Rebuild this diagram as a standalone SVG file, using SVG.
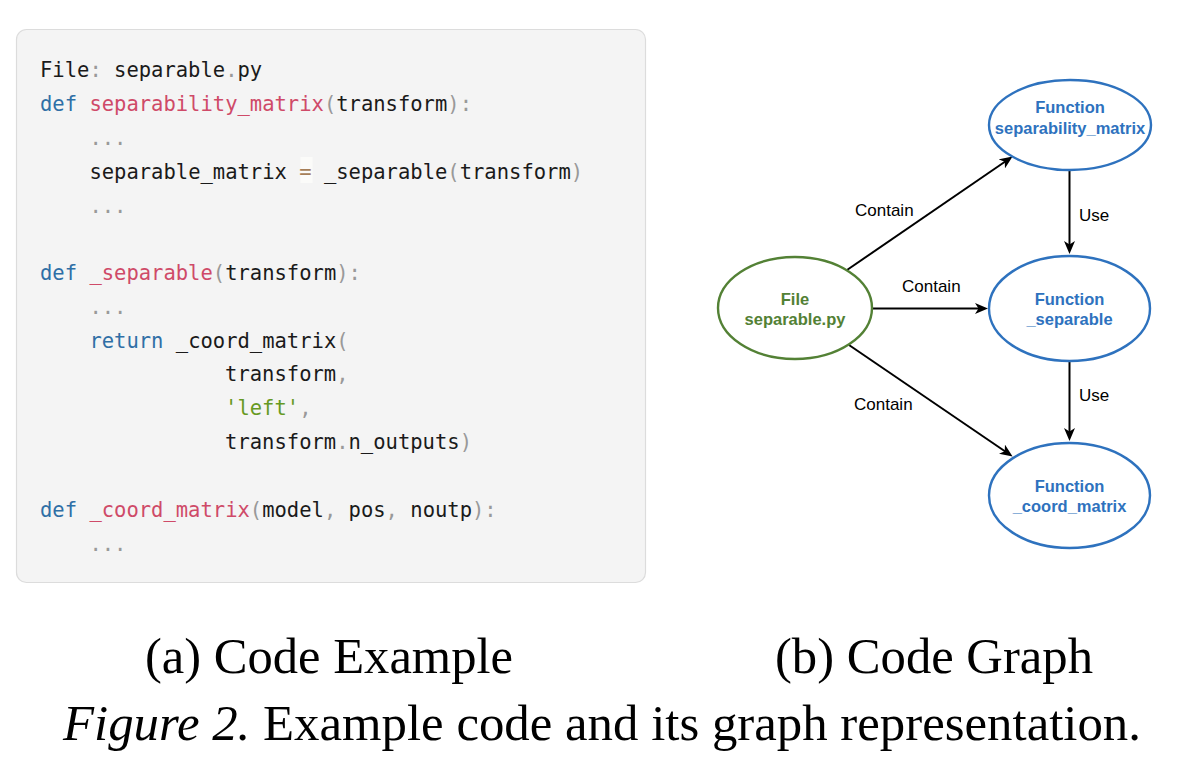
<svg xmlns="http://www.w3.org/2000/svg" width="1202" height="782" viewBox="0 0 1202 782">
<style>
.code{font-family:"DejaVu Sans Mono","Liberation Mono",monospace;font-size:20.5px;fill:#1a1a1a;white-space:pre}
.kw{fill:#2f6fa6}
.fn{fill:#cf4a68}
.pu{fill:#999999}
.st{fill:#669922}
.op{fill:#a67f59}
.node-f{fill:#ffffff;stroke:#2e72be;stroke-width:2.4}
.node-g{fill:#ffffff;stroke:#538135;stroke-width:2.4}
.lbl{font-family:"Liberation Sans",Arial,sans-serif;font-size:16.5px;font-weight:bold;text-anchor:middle}
.lb{fill:#2e72be}
.lg{fill:#538135}
.edge{stroke:#000;stroke-width:2;fill:none}
.elbl{font-family:"Liberation Sans",Arial,sans-serif;font-size:17px;fill:#000}
.cap{font-family:"Liberation Serif","Times New Roman",serif;font-size:50px;fill:#000}
</style>
<defs>
<marker id="arr" viewBox="0 0 13 11" refX="5" refY="5.5" markerWidth="13" markerHeight="11" markerUnits="userSpaceOnUse" orient="auto">
<path d="M0,0 L13,5.5 L0,11 L3.5,5.5 Z" fill="#000"/>
</marker>
</defs>
<rect width="1202" height="782" fill="#ffffff"/>

<g id="code-panel">
<rect x="16.5" y="29.5" width="629" height="553" rx="10" ry="10" fill="#f4f4f4" stroke="#dcdcdc" stroke-width="1.2"/>
<rect x="300.5" y="157" width="12" height="26" fill="#fbfbf9"/>
<text class="code" x="40" y="77">File<tspan class="pu">:</tspan> separable<tspan class="pu">.</tspan>py</text>
<text class="code" x="40" y="111"><tspan class="kw">def</tspan> <tspan class="fn">separability_matrix</tspan><tspan class="pu">(</tspan>transform<tspan class="pu">):</tspan></text>
<text class="code pu" x="89.4" y="145">...</text>
<text class="code" x="89.4" y="179">separable_matrix <tspan class="op">=</tspan> _separable<tspan class="pu">(</tspan>transform<tspan class="pu">)</tspan></text>
<text class="code pu" x="89.4" y="213">...</text>
<text class="code" x="40" y="280"><tspan class="kw">def</tspan> <tspan class="fn">_separable</tspan><tspan class="pu">(</tspan>transform<tspan class="pu">):</tspan></text>
<text class="code pu" x="89.4" y="314">...</text>
<text class="code" x="89.4" y="348"><tspan class="kw">return</tspan> _coord_matrix<tspan class="pu">(</tspan></text>
<text class="code" x="225.1" y="381">transform<tspan class="pu">,</tspan></text>
<text class="code" x="225.1" y="415"><tspan class="st">'left'</tspan><tspan class="pu">,</tspan></text>
<text class="code" x="225.1" y="449">transform<tspan class="pu">.</tspan>n_outputs<tspan class="pu">)</tspan></text>
<text class="code" x="40" y="517"><tspan class="kw">def</tspan> <tspan class="fn">_coord_matrix</tspan><tspan class="pu">(</tspan>model<tspan class="pu">,</tspan> pos<tspan class="pu">,</tspan> noutp<tspan class="pu">):</tspan></text>
<text class="code pu" x="89.4" y="551">...</text>
</g>

<g id="connectors">
<line class="edge" x1="847" y1="270" x2="1006" y2="161" marker-end="url(#arr)"/>
<line class="edge" x1="872" y1="308.5" x2="980" y2="308.5" marker-end="url(#arr)"/>
<line class="edge" x1="849" y1="345" x2="1006" y2="452" marker-end="url(#arr)"/>
<line class="edge" x1="1069.5" y1="170" x2="1069.5" y2="246" marker-end="url(#arr)"/>
<line class="edge" x1="1069.5" y1="361" x2="1069.5" y2="433" marker-end="url(#arr)"/>
<text class="elbl" x="855" y="216">Contain</text>
<text class="elbl" x="902" y="292">Contain</text>
<text class="elbl" x="854" y="410">Contain</text>
<text class="elbl" x="1079" y="221">Use</text>
<text class="elbl" x="1079" y="401">Use</text>
</g>

<g id="node-file">
<ellipse class="node-g" cx="795" cy="308" rx="77" ry="51"/>
<text class="lbl lg" x="795" y="305">File</text>
<text class="lbl lg" x="795" y="325">separable.py</text>
</g>

<g id="node-separability-matrix">
<ellipse class="node-f" cx="1070" cy="125" rx="81" ry="45"/>
<text class="lbl lb" x="1070" y="113">Function</text>
<text class="lbl lb" x="1070" y="134">separability_matrix</text>
</g>

<g id="node-separable">
<ellipse class="node-f" cx="1069.5" cy="308.5" rx="80.5" ry="52.5"/>
<text class="lbl lb" x="1069.5" y="305">Function</text>
<text class="lbl lb" x="1069.5" y="325">_separable</text>
</g>

<g id="node-coord-matrix">
<ellipse class="node-f" cx="1069.5" cy="495.5" rx="80.5" ry="52.5"/>
<text class="lbl lb" x="1069.5" y="492">Function</text>
<text class="lbl lb" x="1069.5" y="512">_coord_matrix</text>
</g>

<g id="captions">
<text class="cap" x="145" y="673" textLength="368" lengthAdjust="spacingAndGlyphs">(a) Code Example</text>
<text class="cap" x="775" y="673" textLength="318" lengthAdjust="spacingAndGlyphs">(b) Code Graph</text>
<text class="cap" x="63" y="740" textLength="1078" lengthAdjust="spacingAndGlyphs"><tspan font-style="italic">Figure 2.</tspan> Example code and its graph representation.</text>
</g>
</svg>
